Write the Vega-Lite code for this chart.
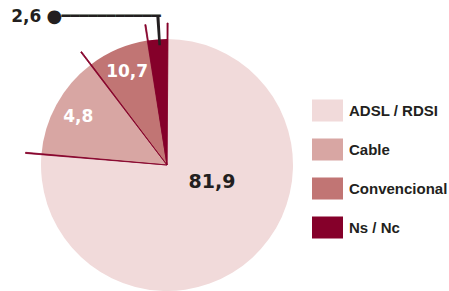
{
  "$schema": "https://vega.github.io/schema/vega-lite/v6.json",
  "width": 334,
  "height": 252,
  "autosize": {"type": "none"},
  "padding": {"left": 0, "top": 39, "right": 115, "bottom": 0},
  "background": "white",
  "config": {
    "view": {"stroke": null},
    "locale": {"number": {"decimal": ",", "thousands": ".", "grouping": [3], "currency": ["", " €"]}}
  },
  "data": {
    "values": [
      {"conexion": "ADSL / RDSI", "valor": 81.9, "cuota": 76.3, "orden": 1},
      {"conexion": "Cable", "valor": 4.8, "cuota": 13.3, "orden": 2},
      {"conexion": "Convencional", "valor": 10.7, "cuota": 7.9, "orden": 3},
      {"conexion": "Ns / Nc", "valor": 2.6, "cuota": 2.5, "orden": 4}
    ]
  },
  "transform": [
    {"stack": "cuota", "groupby": [], "sort": [{"field": "orden", "order": "ascending"}], "as": ["ini", "fin"]}
  ],
  "layer": [
    {
      "mark": {"type": "arc"},
      "encoding": {
        "theta": {"field": "ini", "type": "quantitative", "stack": null, "scale": {"domain": [0, 100]}},
        "theta2": {"field": "fin"},
        "color": {
          "field": "conexion",
          "type": "nominal",
          "scale": {
            "domain": ["ADSL / RDSI", "Cable", "Convencional", "Ns / Nc"],
            "range": ["#f1dada", "#d8a6a3", "#c17574", "#85002a"]
          },
          "legend": {
            "orient": "none",
            "legendX": 312,
            "legendY": 56,
            "title": null,
            "padding": 0,
            "symbolType": "M-1,-0.71L1,-0.71L1,0.71L-1,0.71Z",
            "symbolSize": 961,
            "symbolStrokeWidth": 0,
            "symbolOpacity": 1,
            "labelFont": "Liberation Sans",
            "labelFontSize": 15,
            "labelFontWeight": "bold",
            "labelColor": "#231f20",
            "labelOffset": 6,
            "rowPadding": 12
          }
        }
      }
    },
    {
      "mark": {"type": "arc", "radius": 142, "theta2Offset": 0.008, "color": "#85002a", "stroke": "#85002a", "strokeWidth": 0.8},
      "encoding": {
        "theta": {"field": "fin", "type": "quantitative", "stack": null, "scale": {"domain": [0, 100]}},
        "theta2": {"field": "fin"}
      }
    },
    {
      "transform": [{"filter": "datum.orden == 4"}],
      "mark": {"type": "arc", "radius": 150, "radius2": 120, "thetaOffset": 0.0855, "theta2Offset": -0.0506, "color": "#231f20"},
      "encoding": {
        "theta": {"field": "ini", "type": "quantitative", "stack": null, "scale": {"domain": [0, 100]}},
        "theta2": {"field": "fin"}
      }
    },
    {
      "mark": {"type": "text", "radius": 101, "font": "DejaVu Sans", "fontWeight": "bold", "fontSize": 17, "color": "white", "align": "center", "baseline": "middle"},
      "encoding": {
        "theta": {"field": "cuota", "type": "quantitative", "stack": true, "scale": {"domain": [0, 100]}},
        "order": {"field": "orden"},
        "text": {"condition": {"test": "datum.orden == 2 || datum.orden == 3", "field": "valor", "format": ".1f"}, "value": ""}
      }
    },
    {
      "mark": {"type": "text", "radius": 48, "dx": 12.5, "dy": -18, "font": "DejaVu Sans", "fontWeight": "bold", "fontSize": 19, "color": "#231f20", "align": "center", "baseline": "middle"},
      "encoding": {
        "theta": {"field": "cuota", "type": "quantitative", "stack": true, "scale": {"domain": [0, 100]}},
        "order": {"field": "orden"},
        "text": {"condition": {"test": "datum.orden == 1", "field": "valor", "format": ".1f"}, "value": ""}
      }
    },
    {
      "mark": {"type": "text", "radius": 149, "dx": 5.5, "dy": 0, "font": "DejaVu Sans Mono", "fontSize": 15, "color": "#231f20", "align": "right", "baseline": "middle"},
      "encoding": {
        "theta": {"field": "cuota", "type": "quantitative", "stack": true, "scale": {"domain": [0, 100]}},
        "order": {"field": "orden"},
        "text": {"condition": {"test": "datum.orden == 4", "value": "━━━━━━━━━━━"}, "value": ""}
      }
    },
    {
      "mark": {"type": "text", "radius": 149, "dx": -101, "dy": 1, "font": "DejaVu Sans", "fontSize": 18, "color": "#231f20", "align": "center", "baseline": "middle"},
      "encoding": {
        "theta": {"field": "cuota", "type": "quantitative", "stack": true, "scale": {"domain": [0, 100]}},
        "order": {"field": "orden"},
        "text": {"condition": {"test": "datum.orden == 4", "value": "●"}, "value": ""}
      }
    },
    {
      "mark": {"type": "text", "radius": 149, "dx": -114, "dy": 1, "font": "DejaVu Sans", "fontWeight": "bold", "fontSize": 17, "color": "#231f20", "align": "right", "baseline": "middle"},
      "encoding": {
        "theta": {"field": "cuota", "type": "quantitative", "stack": true, "scale": {"domain": [0, 100]}},
        "order": {"field": "orden"},
        "text": {"condition": {"test": "datum.orden == 4", "field": "valor", "format": ".1f"}, "value": ""}
      }
    }
  ]
}
